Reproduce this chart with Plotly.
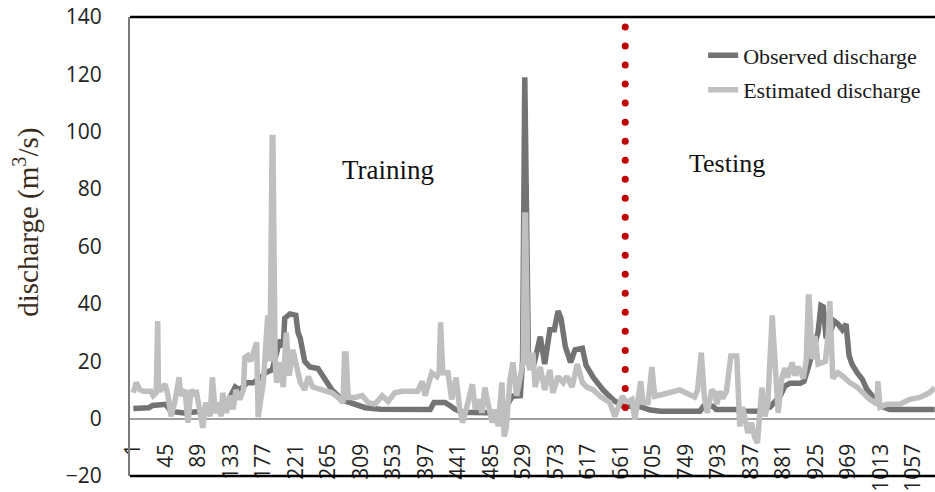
import numpy as np
import plotly.graph_objects as go

# Daily discharge (m3/s): observed series, sampled at the days where it changes
obs_day = [1, 22, 27, 40, 45, 52, 70, 91, 118, 129,
           139, 145, 155, 163, 172, 180, 189, 196, 200, 204,
           206, 213, 221, 224, 227, 233, 240, 251, 257, 261,
           270, 284, 301, 315, 336, 363, 403, 408, 423, 430,
           437, 446, 471, 498, 508, 514, 525, 528, 531, 536,
           544, 552, 558, 565, 571, 576, 580, 586, 593, 599,
           609, 614, 624, 637, 651, 664, 687, 701, 715, 768,
           773, 786, 790, 816, 823, 846, 863, 877, 883, 890,
           904, 909, 915, 922, 928, 932, 935, 939, 946, 950,
           955, 961, 966, 970, 974, 981, 988, 994, 1002, 1012,
           1025, 1086]
obs_q = [3.5, 3.8, 4.6, 4.6, 5.0, 2.5, 2.0, 2.5, 3.0, 6.0,
         11.0, 10.0, 12.5, 12.5, 14.0, 16.0, 17.0, 24.0, 27.5, 25.0,
         35.0, 36.5, 36.0, 30.0, 28.0, 20.0, 18.0, 17.5, 15.0, 13.7,
         10.0, 6.5, 5.0, 3.8, 3.3, 3.2, 3.2, 5.6, 5.6, 4.5,
         3.2, 2.2, 2.0, 2.0, 5.0, 7.8, 8.0, 20.0, 119.0, 20.0,
         19.6, 28.6, 19.0, 31.0, 31.0, 37.5, 35.0, 25.0, 19.6, 24.0,
         24.5, 18.5, 14.3, 10.0, 6.5, 4.3, 4.2, 3.0, 2.6, 2.6,
         4.3, 4.3, 3.2, 3.2, 2.7, 2.6, 4.0, 8.0, 11.3, 12.3,
         12.3, 13.0, 18.0, 25.0, 30.0, 39.4, 39.0, 28.0, 31.0, 34.0,
         33.0, 31.0, 33.0, 22.0, 19.0, 16.0, 13.7, 10.3, 7.8, 4.5,
         3.2, 3.2]

# Model estimate
est_day = [1, 5, 10, 15, 25, 28, 32, 33, 34, 35,
           38, 44, 48, 52, 57, 63, 65, 71, 75, 79,
           85, 86, 91, 95, 99, 105, 108, 112, 116, 120,
           122, 127, 132, 136, 140, 145, 150, 152, 156, 160,
           166, 168, 170, 177, 183, 186, 189, 190, 193, 195,
           199, 204, 208, 212, 217, 222, 227, 233, 238, 244,
           257, 270, 278, 285, 287, 289, 292, 301, 311, 319,
           328, 338, 346, 355, 365, 376, 386, 392, 396, 405,
           412, 415, 416, 417, 420, 427, 432, 438, 443, 447,
           454, 460, 464, 468, 473, 477, 481, 487, 491, 495,
           500, 503, 506, 511, 515, 520, 525, 529, 531, 532,
           535, 538, 542, 545, 552, 558, 565, 569, 576, 583,
           588, 595, 602, 609, 615, 624, 633, 646, 653, 657,
           663, 669, 676, 680, 684, 688, 691, 698, 703, 707,
           717, 741, 761, 765, 770, 774, 778, 784, 788, 791,
           795, 799, 804, 810, 818, 822, 826, 833, 838, 842,
           846, 852, 856, 860, 866, 870, 874, 879, 883, 887,
           893, 897, 901, 908, 912, 915, 916, 920, 924, 928,
           938, 942, 943, 944, 948, 955, 962, 971, 981, 989,
           998, 1008, 1009, 1012, 1021, 1039, 1052, 1066, 1079, 1086]
est_q = [9.0, 12.6, 10.0, 9.5, 9.5, 8.0, 9.0, 34.0, 34.0, 10.0,
         10.0, 12.0, 8.0, 0.8, 5.6, 14.4, 8.0, 10.0, -1.4, 10.0,
         8.0, 10.0, 2.0, -3.2, 5.6, 0.8, 14.4, 2.0, 5.6, 0.8,
         9.0, 2.0, 8.0, 3.2, 10.0, 6.7, 10.0, 21.3, 22.0, 20.0,
         25.0, 26.6, 0.5, 12.5, 36.0, 20.0, 98.0, 98.0, 20.0, 12.5,
         19.6, 11.0, 30.0, 15.0, 24.0, 18.0, 12.6, 10.0, 14.7, 11.0,
         10.0, 9.0, 7.4, 5.6, 22.5, 22.5, 7.4, 7.4, 8.0, 5.6,
         5.0, 8.0, 6.0, 9.0, 9.5, 9.5, 9.5, 13.0, 8.0, 16.0,
         14.7, 16.0, 33.6, 33.6, 16.0, 16.0, 6.7, 14.3, 3.2, -1.4,
         5.6, 12.0, 3.2, 6.7, 2.0, 10.8, 5.6, -1.4, 3.2, -2.7,
         12.6, -6.3, -3.0, 13.7, 19.6, 8.0, 14.7, 20.0, 71.0, 71.0,
         20.0, 17.0, 23.0, 11.0, 18.0, 10.0, 17.0, 9.0, 14.7, 12.6,
         14.7, 11.0, 19.0, 12.6, 11.0, 10.0, 7.8, 5.6, 0.7, 4.0,
         7.8, 5.6, 6.7, -0.3, 7.8, 13.0, 5.6, 5.6, 18.0, 7.8,
         8.4, 10.0, 7.5, 10.0, 23.0, 7.8, 2.0, 10.0, 9.0, 5.0,
         9.5, 7.0, 9.5, 21.8, 21.8, -2.7, 4.0, -5.0, -1.5, -6.3,
         -8.5, 10.8, 0.8, 5.0, 36.0, 14.0, 2.0, 14.0, 17.6, 14.3,
         19.6, 15.0, 18.0, 14.0, 20.0, 42.4, 42.4, 20.7, 28.8, 19.0,
         20.0, 30.0, 41.0, 41.0, 14.0, 16.0, 14.7, 12.6, 11.0, 9.0,
         6.7, 5.0, 13.0, 4.0, 5.0, 5.0, 6.7, 7.4, 9.0, 10.8]

# Day where the training period ends and testing begins
split_day = 667

x_ticks = list(range(1, 1058, 44))
y_ticks = list(range(-20, 141, 20))

fig = go.Figure()
fig.add_trace(go.Scatter(
    x=obs_day, y=obs_q, mode="lines", name="Observed discharge",
    line=dict(color="#737373", width=5.5), legendgroup="obs"))
fig.add_trace(go.Scatter(
    x=est_day, y=est_q, mode="lines", name="Estimated discharge",
    line=dict(color="#bfbfbf", width=5.5), legendgroup="est"))

# Dotted divider between the two periods
div_y = np.linspace(3.9, 136.5, 21)
fig.add_trace(go.Scatter(
    x=[split_day] * len(div_y), y=div_y, mode="markers",
    marker=dict(color="#c00000", size=7), showlegend=False, hoverinfo="skip"))

serif = "Liberation Serif"
sans = "Open Sans"

fig.update_layout(
    width=935, height=492,
    margin=dict(l=130, r=0, t=17, b=16),
    paper_bgcolor="white", plot_bgcolor="white",
    showlegend=True,
    legend=dict(x=0.712, y=0.962, xanchor="left", yanchor="top",
                font=dict(family=serif, size=22, color="#1a1a1a"),
                bgcolor="rgba(0,0,0,0)", tracegroupgap=3),
    xaxis=dict(range=[-3.5, 1086.4], tickmode="array", tickvals=x_ticks,
               ticktext=[str(t) for t in x_ticks], tickangle=-90,
               tickfont=dict(family=sans, size=21, color="#222222"),
               ticks="", ticklabelstandoff=16,
               showgrid=False, zeroline=False,
               showline=True, linecolor="#a0a0a0", linewidth=1.5,
               anchor="free", position=20 / 160, layer="below traces",
               automargin=False),
    yaxis=dict(range=[-20, 140], tickmode="array", tickvals=y_ticks,
               tickfont=dict(family=sans, size=21, color="#222222"),
               ticks="", ticklabelstandoff=22,
               showgrid=False, zeroline=False,
               showline=True, linecolor="#7a7a7a", linewidth=2,
               automargin=False),
    shapes=[
        dict(type="line", xref="paper", yref="paper", x0=0, x1=1, y0=1, y1=1,
             line=dict(color="black", width=2.5)),
        dict(type="line", xref="paper", yref="paper", x0=0, x1=1, y0=0, y1=0,
             line=dict(color="black", width=2.5)),
    ],
    annotations=[
        dict(text="discharge (m<sup>3</sup>/s)", xref="paper", yref="y",
             x=-0.128, y=68.6, textangle=-90, showarrow=False,
             xanchor="center", yanchor="middle",
             font=dict(family=serif, size=29, color="#3a2c1c")),
        dict(text="Training", xref="x", yref="y", x=346, y=86.8,
             showarrow=False, xanchor="center", yanchor="middle",
             font=dict(family=serif, size=27, color="#111111")),
        dict(text="Testing", xref="x", yref="y", x=805, y=88.8,
             showarrow=False, xanchor="center", yanchor="middle",
             font=dict(family=serif, size=26, color="#111111")),
    ],
)

fig.write_html("out.html")
